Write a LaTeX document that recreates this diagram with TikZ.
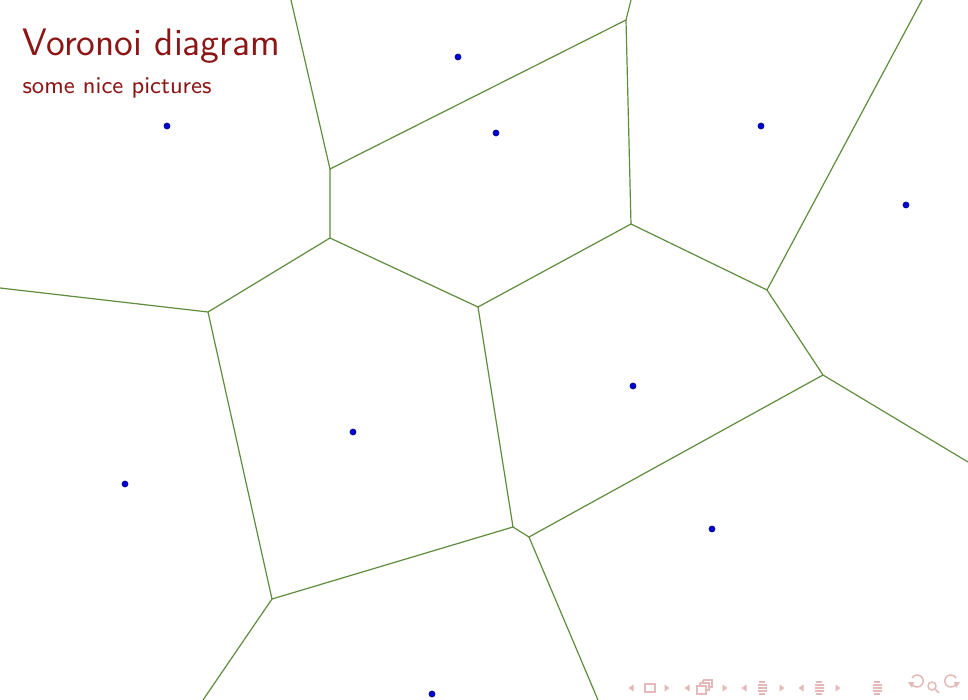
\documentclass[tikz,border=0pt]{standalone}
\usepackage{fontspec}
\usetikzlibrary{positioning,calc}
\definecolor{titlered}{HTML}{8C1616}
\definecolor{edgegreen}{HTML}{5F8C3C}
\definecolor{siteblue}{HTML}{0000E0}
\definecolor{navpink}{HTML}{E3B9B9}

\tikzset{
  site/.style={circle, fill=siteblue, draw=siteblue!60!black, line width=0.3pt, inner sep=0pt, minimum size=2.2pt},
  cell/.style={draw=edgegreen, line width=0.45pt},
  navicon/.style={draw=navpink, line width=0.55pt},
  navtip/.style={fill=navpink, draw=none}
}

\begin{document}
\begin{tikzpicture}[x=0.01322cm,y=-0.01322cm]
\useasboundingbox (0,0) rectangle (968,700);
\fill[white] (0,0) rectangle (968,700);

% title of the frame
\node[anchor=base west, inner sep=0pt, text=titlered, font=\sffamily\Large] (title) at (22,55) {Voronoi diagram};
\node[anchor=base west, inner sep=0pt, text=titlered, font=\sffamily\fontsize{9}{11}\selectfont] (subtitle) at (22,94) {some nice pictures};

% vertices of the diagram
\coordinate (va) at (330,169);
\coordinate (vb) at (626,20);
\coordinate (vc) at (330,238);
\coordinate (vd) at (208,312);
\coordinate (ve) at (478,307);
\coordinate (vf) at (631,224);
\coordinate (vg) at (767,290);
\coordinate (vh) at (823,375);
\coordinate (vi) at (513,527);
\coordinate (vj) at (529,537);
\coordinate (vk) at (272,599);
% where the cells leave the frame
\coordinate (oa) at (291,0);
\coordinate (ob) at (631,0);
\coordinate (od) at (0,288);
\coordinate (og) at (922,0);
\coordinate (oh) at (968,462);
\coordinate (oj) at (598,700);
\coordinate (ok) at (203,700);

% edges
\draw[cell] (oa) -- (va) -- (vb) -- (ob);
\draw[cell] (va) -- (vc) -- (vd) -- (od);
\draw[cell] (vc) -- (ve) -- (vf) -- (vb);
\draw[cell] (vf) -- (vg) -- (og);
\draw[cell] (vg) -- (vh) -- (oh);
\draw[cell] (vd) -- (vk) -- (ok);
\draw[cell] (ve) -- (vi) -- (vk);
\draw[cell] (vi) -- (vj) -- (vh);
\draw[cell] (vj) -- (oj);

% sites
\node[site] (s1) at (167,126) {};
\node[site] (s2) at (458,57) {};
\node[site] (s3) at (496,133) {};
\node[site] (s4) at (761,126) {};
\node[site] (s5) at (906,205) {};
\node[site] (s6) at (633,386) {};
\node[site] (s7) at (353,432) {};
\node[site] (s8) at (125,484) {};
\node[site] (s9) at (712,529) {};
\node[site] (s10) at (432,694) {};

% navigation symbols
\foreach \lx/\rx in {631/667, 687/725, 744/782, 801/838} {
  \fill[navtip] (\lx-2.5,688) -- (\lx+2.5,684.5) -- (\lx+2.5,691.5) -- cycle;
  \fill[navtip] (\rx+2.5,688) -- (\rx-2.5,684.5) -- (\rx-2.5,691.5) -- cycle;
}
\draw[navicon] (645,684) rectangle (655,692);
\draw[navicon] (697,686) rectangle (706,694);
\draw[navicon] (700,683) -- (709,683) -- (709,690) -- (706,690);
\draw[navicon] (703,680) -- (712,680) -- (712,687) -- (709,687);
\draw[navicon] (700,683) -- (700,686);
\draw[navicon] (703,680) -- (703,683);
\foreach \cx in {762, 819, 877} {
  \foreach \dy/\wd in {-6/3, -3/4.5, 0/4.5, 3/4.5, 6/3} {
    \draw[navicon] (\cx-\wd,688+\dy) -- (\cx+\wd,688+\dy);
  }
}
\draw[navicon] (912,684) arc[start angle=150, end angle=-150, radius=6];
\fill[navtip] (908,682) -- (914,682) -- (912,688) -- cycle;
\draw[navicon] (932,686) circle[radius=4];
\draw[navicon] (935,689) -- (939,693);
\draw[navicon] (956,684) arc[start angle=30, end angle=330, radius=6];
\fill[navtip] (960,682) -- (954,682) -- (956,688) -- cycle;
\end{tikzpicture}
\end{document}
